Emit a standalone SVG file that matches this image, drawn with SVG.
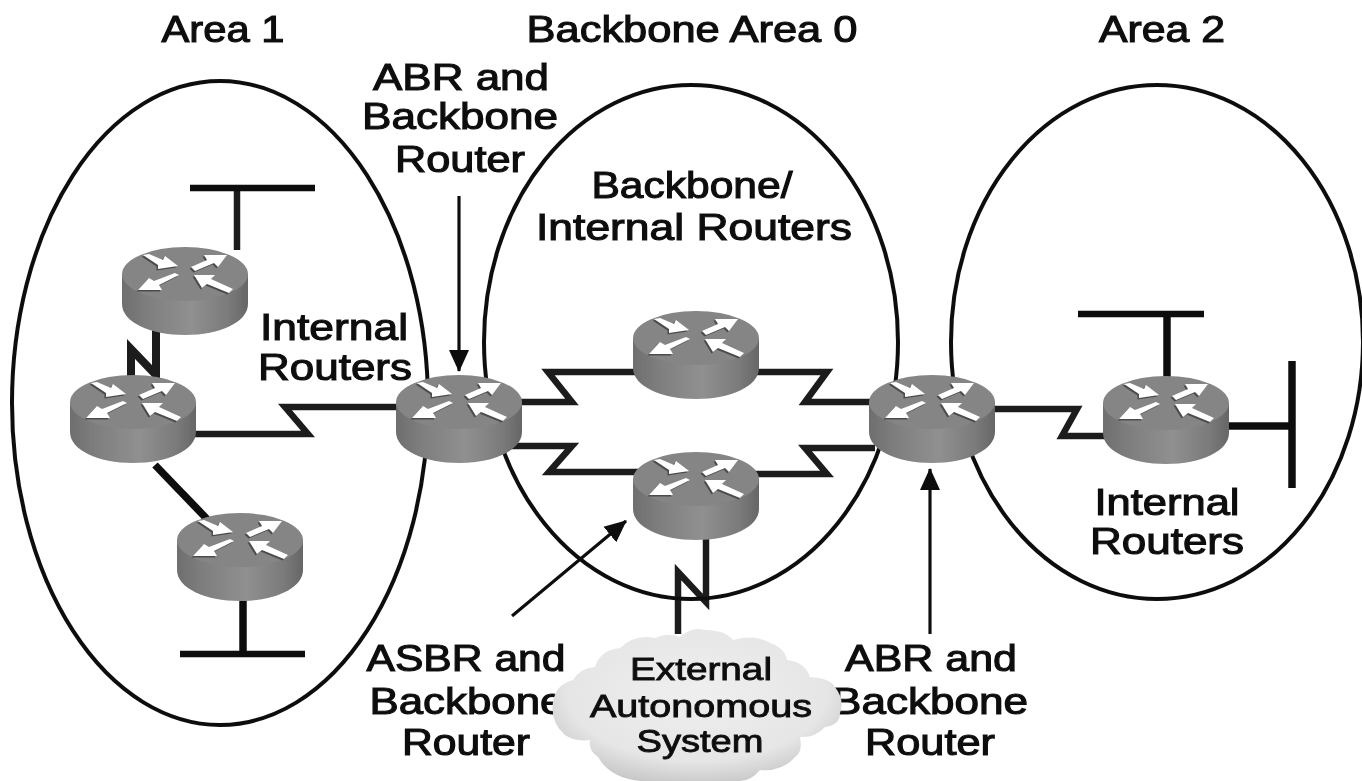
<svg xmlns="http://www.w3.org/2000/svg" width="1362" height="781" viewBox="0 0 1362 781">
<style>
text{font-family:"Liberation Sans",Arial,sans-serif;font-size:37px;fill:#111;stroke:#111;stroke-width:1.1;text-anchor:middle}
.cl{font-size:32px;stroke-width:.9}
.area{fill:none;stroke:#111;stroke-width:4}
.link{fill:none;stroke:#1c1c1c;stroke-width:6.5;stroke-linejoin:miter;stroke-miterlimit:8}
.thick{fill:none;stroke:#0a0a0a;stroke-width:7.5}
.thin{fill:none;stroke:#111;stroke-width:3.2}
.bar{fill:none;stroke:#0a0a0a;stroke-width:6.5}
</style>
<defs>
<linearGradient id="body" x1="0" x2="1" y1="0" y2="0">
<stop offset="0" stop-color="#6e6e6e"/><stop offset=".2" stop-color="#7e7e7e"/><stop offset=".55" stop-color="#909090"/><stop offset=".85" stop-color="#7a7a7a"/><stop offset="1" stop-color="#666"/>
</linearGradient>
<radialGradient id="cl" cx=".5" cy=".42" r=".62"><stop offset="0" stop-color="#efefef"/><stop offset=".72" stop-color="#e6e6e6"/><stop offset="1" stop-color="#c6c6c6"/></radialGradient>
<filter id="soft" x="-2%" y="-2%" width="104%" height="104%"><feGaussianBlur stdDeviation=".75"/></filter>
<marker id="ah" markerUnits="userSpaceOnUse" markerWidth="24" markerHeight="24" refX="21" refY="11" orient="auto"><path d="M0 1L22 11L0 21z" fill="#111"/></marker>
<g id="arrows">
<path d="M-42-19L-36-20L-22-14L-20-18L-7-8L-27-5L-27-9z"/>
<path d="M6-7L22-14L19-19L42-19L33-7L29-11L10-3z"/>
<path d="M-47 16L-36 4L-31 7L-10-1L-6 1L-26 11L-23 16z"/>
<path d="M9 1L30 1L26 5L48 15L44 19L22 10L17 14z"/>
</g>
<g id="router">
<path d="M-63 0V30C-63 48-35 61 0 61S63 48 63 30V0z" fill="url(#body)"/>
<ellipse cx="0" cy="0" rx="63" ry="27" fill="#858585"/>
<use href="#arrows" x="-1.5" y="1.5" fill="#333" opacity=".7"/>
<use href="#arrows" fill="#fff"/>
</g>
</defs>
<g filter="url(#soft)">
<g id="connectors">
<path class="link" d="M237 190V250"/>
<path class="bar" d="M190 188H315"/>
<path class="link" d="M156 330V375L131 349V378" style="stroke-width:8"/>
<path class="link" d="M190 434H308L285 407H396"/>
<path class="thick" d="M155 465L207 519"/>
<path class="thick" d="M243 595V652"/>
<path class="bar" d="M180 654H305"/>
<path class="link" d="M515 402H572L548 372H636"/>
<path class="link" d="M756 372H827L805 402H872"/>
<path class="link" d="M510 446H572L549 472H640"/>
<path class="link" d="M752 474H827L805 448H875"/>
<path class="link" d="M706 530V602L678 572V634"/>
<path class="link" d="M990 409H1077L1062 436H1108"/>
<path class="thick" d="M1167 315V378"/>
<path class="bar" d="M1078 314H1204"/>
<path class="thick" d="M1226 426H1292"/>
<path class="thick" d="M1292 361V488"/>
<path class="thin" d="M459 196V371" marker-end="url(#ah)"/>
<path class="thin" d="M512 616L626 521" marker-end="url(#ah)"/>
<path class="thin" d="M930 634V469" marker-end="url(#ah)"/>
</g>
<g id="area-1"><ellipse class="area" cx="220" cy="403" rx="208" ry="322"/><text x="223" y="42" textLength="123" lengthAdjust="spacingAndGlyphs">Area 1</text></g>
<g id="area-0"><ellipse class="area" cx="691" cy="342" rx="207" ry="257"/><text x="692" y="42" textLength="331" lengthAdjust="spacingAndGlyphs">Backbone Area 0</text></g>
<g id="area-2"><ellipse class="area" cx="1157" cy="342" rx="206" ry="257"/><text x="1162" y="42" textLength="126" lengthAdjust="spacingAndGlyphs">Area 2</text></g>
<g id="label-abr-top"><text x="461" y="90" textLength="176" lengthAdjust="spacingAndGlyphs">ABR and</text><text x="460" y="129" textLength="196" lengthAdjust="spacingAndGlyphs">Backbone</text><text x="460" y="172" textLength="130" lengthAdjust="spacingAndGlyphs">Router</text></g>
<g id="label-bb-internal"><text x="692" y="198" textLength="201" lengthAdjust="spacingAndGlyphs">Backbone/</text><text x="694" y="240" textLength="316" lengthAdjust="spacingAndGlyphs">Internal Routers</text></g>
<g id="label-internal-1"><text x="334" y="340" textLength="148" lengthAdjust="spacingAndGlyphs">Internal</text><text x="335" y="380" textLength="154" lengthAdjust="spacingAndGlyphs">Routers</text></g>
<g id="label-internal-2"><text x="1167" y="515" textLength="145" lengthAdjust="spacingAndGlyphs">Internal</text><text x="1167" y="554" textLength="154" lengthAdjust="spacingAndGlyphs">Routers</text></g>
<g id="label-asbr"><text x="466" y="671" textLength="199" lengthAdjust="spacingAndGlyphs">ASBR and</text><text x="467" y="714" textLength="195" lengthAdjust="spacingAndGlyphs">Backbone</text><text x="466" y="755" textLength="128" lengthAdjust="spacingAndGlyphs">Router</text></g>
<g id="label-abr-bottom"><text x="931" y="671" textLength="172" lengthAdjust="spacingAndGlyphs">ABR and</text><text x="930" y="714" textLength="196" lengthAdjust="spacingAndGlyphs">Backbone</text><text x="930" y="755" textLength="130" lengthAdjust="spacingAndGlyphs">Router</text></g>
<g id="cloud">
<path fill="url(#cl)" d="M553 702Q556 684 573 680Q580 668 595 667Q600 650 620 648Q635 634 655 638Q668 632 680 637Q692 626 705 630Q725 630 733 640Q755 634 770 643Q785 648 787 660Q805 662 810 677Q830 678 835 687Q845 700 840 713Q840 725 825 727Q815 738 800 737Q803 752 795 757Q782 772 760 770Q750 782 738 781H640Q610 778 598 757Q588 750 590 740Q575 742 565 735Q550 722 553 702z"/>
<text class="cl" x="701" y="680" textLength="142" lengthAdjust="spacingAndGlyphs">External</text>
<text class="cl" x="701" y="717" textLength="222" lengthAdjust="spacingAndGlyphs">Autonomous</text>
<text class="cl" x="700" y="752" textLength="127" lengthAdjust="spacingAndGlyphs">System</text>
</g>
<g id="r1"><use href="#router" x="185" y="274"/></g>
<g id="r2"><use href="#router" x="133" y="402"/></g>
<g id="r3"><use href="#router" x="240" y="540"/></g>
<g id="r4"><use href="#router" x="459" y="402"/></g>
<g id="r5"><use href="#router" x="696" y="338"/></g>
<g id="r6"><use href="#router" x="696" y="479"/></g>
<g id="r7"><use href="#router" x="932" y="402"/></g>
<g id="r8"><use href="#router" x="1166" y="403"/></g>
</g>
</svg>
